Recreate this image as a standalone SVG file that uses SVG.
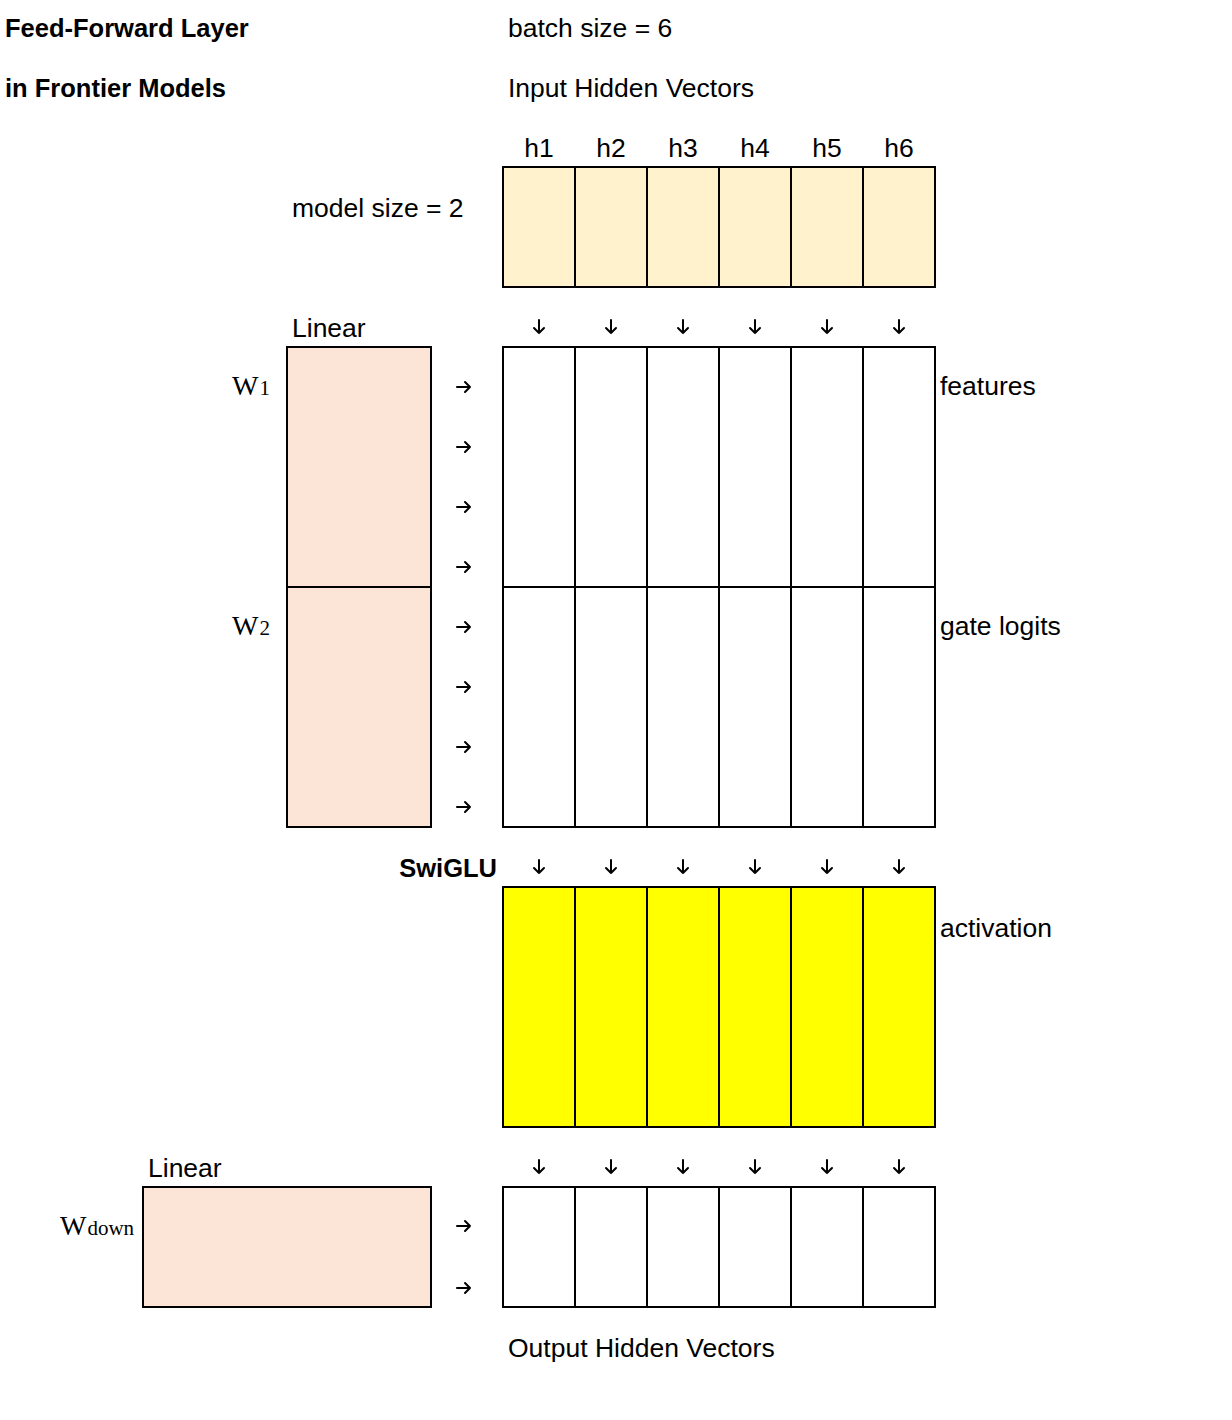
<svg xmlns="http://www.w3.org/2000/svg" width="1232" height="1420" viewBox="0 0 1232 1420">
<defs>
<style>
text{font-family:"Liberation Sans",Arial,sans-serif;font-size:26.5px;fill:#000}
.b{font-weight:bold;font-size:25.5px}
.m{font-family:"Liberation Serif","Times New Roman",serif;font-size:28px}
.sub{font-family:"Liberation Serif","Times New Roman",serif;font-size:21px}
.c{stroke:#000;stroke-width:2}
.in{fill:#FFF2CC}
.w{fill:#FCE4D6}
.wh{fill:#FFFFFF}
.y{fill:#FFFF00}
.ar{fill:none;stroke:#000;stroke-width:2;stroke-linecap:round;stroke-linejoin:round}
</style>
<path id="ra" d="M-7,0 H6 M1,-5 L6,0 L1,5"/>
<path id="da" d="M0,-7 V6 M-5,1 L0,6 L5,1"/>
</defs>
<rect width="1232" height="1420" fill="#fff"/>

<g id="title">
<text class="b" x="5" y="37">Feed-Forward Layer</text>
<text class="b" x="5" y="97">in Frontier Models</text>
</g>
<g id="labels">
<text x="508" y="37">batch size = 6</text>
<text x="508" y="97">Input Hidden Vectors</text>
<text x="292" y="217">model size = 2</text>
<text x="292" y="337">Linear</text>
<text x="148" y="1177">Linear</text>
<text x="940" y="395">features</text>
<text x="940" y="635">gate logits</text>
<text x="940" y="937">activation</text>
<text class="b" x="497" y="877" text-anchor="end">SwiGLU</text>
<text x="508" y="1357">Output Hidden Vectors</text>
<text class="m" x="232" y="395">W<tspan class="sub" dx="1">1</tspan></text>
<text class="m" x="232" y="635">W<tspan class="sub" dx="1">2</tspan></text>
<text class="m" x="60" y="1235">W<tspan class="sub" dx="1">down</tspan></text>
</g>
<g id="col-headers" text-anchor="middle">
<text x="539" y="157">h1</text>
<text x="611" y="157">h2</text>
<text x="683" y="157">h3</text>
<text x="755" y="157">h4</text>
<text x="827" y="157">h5</text>
<text x="899" y="157">h6</text>
</g>

<g id="input-hidden">
<rect class="in c" x="503" y="167" width="432" height="120"/>
<path class="c" d="M575,167V287M647,167V287M719,167V287M791,167V287M863,167V287"/>
</g>

<g id="w1w2">
<rect class="w c" x="287" y="347" width="144" height="480"/>
<path class="c" d="M287,587H431"/>
</g>

<g id="features-gates">
<rect class="wh c" x="503" y="347" width="432" height="480"/>
<path class="c" d="M575,347V827M647,347V827M719,347V827M791,347V827M863,347V827M503,587H935"/>
</g>

<g id="activation">
<rect class="y c" x="503" y="887" width="432" height="240"/>
<path class="c" d="M575,887V1127M647,887V1127M719,887V1127M791,887V1127M863,887V1127"/>
</g>

<g id="wdown">
<rect class="w c" x="143" y="1187" width="288" height="120"/>
</g>

<g id="output-hidden">
<rect class="wh c" x="503" y="1187" width="432" height="120"/>
<path class="c" d="M575,1187V1307M647,1187V1307M719,1187V1307M791,1187V1307M863,1187V1307"/>
</g>

<g id="connectors" class="ar">
<use href="#da" x="539" y="327"/><use href="#da" x="611" y="327"/><use href="#da" x="683" y="327"/><use href="#da" x="755" y="327"/><use href="#da" x="827" y="327"/><use href="#da" x="899" y="327"/>
<use href="#da" x="539" y="867"/><use href="#da" x="611" y="867"/><use href="#da" x="683" y="867"/><use href="#da" x="755" y="867"/><use href="#da" x="827" y="867"/><use href="#da" x="899" y="867"/>
<use href="#da" x="539" y="1167"/><use href="#da" x="611" y="1167"/><use href="#da" x="683" y="1167"/><use href="#da" x="755" y="1167"/><use href="#da" x="827" y="1167"/><use href="#da" x="899" y="1167"/>
<use href="#ra" x="464" y="387"/><use href="#ra" x="464" y="447"/><use href="#ra" x="464" y="507"/><use href="#ra" x="464" y="567"/>
<use href="#ra" x="464" y="627"/><use href="#ra" x="464" y="687"/><use href="#ra" x="464" y="747"/><use href="#ra" x="464" y="807"/>
<use href="#ra" x="464" y="1226"/><use href="#ra" x="464" y="1288"/>
</g>
</svg>
